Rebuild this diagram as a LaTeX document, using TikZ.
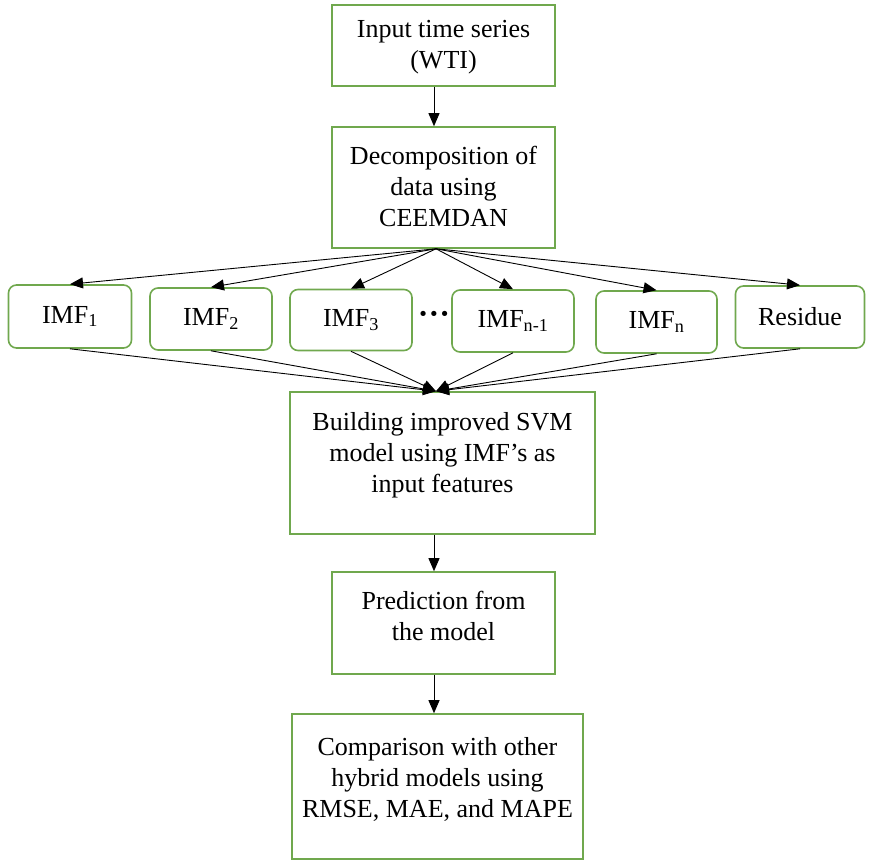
\documentclass[tikz,border=0pt]{standalone}
\usepackage{fontspec}
\setmainfont{Liberation Serif}
\usetikzlibrary{arrows.meta}
\definecolor{boxgreen}{RGB}{112,168,78}
\begin{document}
\begin{tikzpicture}[x=1pt,y=-1pt,
  box/.style={draw=boxgreen, line width=1.6pt, inner sep=0pt},
  rbox/.style={box, rounded corners=8pt, font=\fontsize{26}{31}\selectfont},
  txt/.style={align=center, inner sep=0pt, font=\fontsize{26}{31}\selectfont},
  arr/.style={-{Triangle[length=13pt,width=11pt]}, line width=0.9pt, black}
]
\useasboundingbox (0,0) rectangle (869,861);

% main boxes
\node[box, minimum width=223pt, minimum height=81pt] (input) at (443.5,45.5) {};
\node[txt] (inputt) at (443.5,47) {Input time series\\(WTI)};

\node[box, minimum width=223pt, minimum height=121pt] (decomp) at (443.5,187.5) {};
\node[txt] (decompt) at (443.5,186) {Decomposition of\\data using\\CEEMDAN};

% IMF row
\node[rbox, minimum width=123pt, minimum height=63pt] (imf1) at (70,316.5) {IMF\textsubscript{1}};
\node[rbox, minimum width=122pt, minimum height=62pt] (imf2) at (211,319) {IMF\textsubscript{2}};
\node[rbox, minimum width=122pt, minimum height=61pt] (imf3) at (351,320) {IMF\textsubscript{3}};
\node[inner sep=0pt, font=\fontsize{32}{32}\selectfont\bfseries] (dots) at (434,318) {···};
\node[rbox, minimum width=122pt, minimum height=62pt] (imfn1) at (513,321) {IMF\textsubscript{n-1}};
\node[rbox, minimum width=121pt, minimum height=62pt] (imfn) at (656.5,322) {IMF\textsubscript{n}};
\node[rbox, minimum width=129pt, minimum height=62pt] (resid) at (800,317) {Residue};

\node[box, minimum width=305pt, minimum height=142pt] (build) at (442.5,463) {};
\node[txt] (buildt) at (442.5,455) {Building improved SVM\\model using IMF’s as\\input features};

\node[box, minimum width=223pt, minimum height=102pt] (pred) at (443.5,623) {};
\node[txt] (predt) at (443.5,616) {Prediction from\\the model};

\node[box, minimum width=291pt, minimum height=145pt] (comp) at (437.5,786.5) {};
\node[txt] (compt) at (437.5,779) {Comparison with other\\hybrid models using\\RMSE, MAE, and MAPE};

% axis coordinates
\coordinate (ax) at (434,0);
\coordinate (ax2) at (436,0);

% vertical arrows
\draw[arr] (input.south -| ax) -- (decomp.north -| ax);
\draw[arr] (build.south -| ax) -- (pred.north -| ax);
\draw[arr] (pred.south -| ax) -- (comp.north -| ax);

% fan out
\coordinate (fanout) at (decomp.south -| ax2);
\foreach \n in {imf1,imf2,imf3,imfn1,imfn,resid}
  \draw[arr] (fanout) -- (\n.north);

% fan in
\coordinate (fanin) at (build.north -| ax2);
\foreach \n in {imf1,imf2,imf3,imfn1,imfn,resid}
  \draw[arr] (\n.south) -- (fanin);
\end{tikzpicture}
\end{document}
